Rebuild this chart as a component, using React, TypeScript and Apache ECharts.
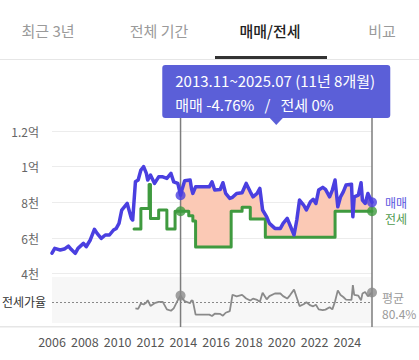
import React, { useEffect, useRef } from "react";
import * as echarts from "echarts";

const FONT = "'Noto Sans CJK KR', 'Noto Sans', sans-serif";

const tabLabels = ["최근 3년", "전체 기간", "매매/전세", "비교"];
const activeTabIndex = 2;
const seriesNames = ["매매", "전세"];
const ratioName = "전세가율";
const averageRatio = 80.4;
const rangeStart = "2013.11";
const rangeEnd = "2025.07";

// 매매 (sale) price, 만원
const saleDates = [
  "2006.01", "2006.03", "2006.07", "2006.10", "2007.01", "2007.03", "2007.06", "2007.08", "2007.12",
  "2008.02", "2008.05", "2008.08", "2008.10", "2009.01", "2009.04", "2009.07", "2009.10", "2009.12",
  "2010.02", "2010.04", "2010.08", "2010.09", "2010.11", "2010.12",
  "2011.02", "2011.04", "2011.06", "2011.07", "2011.08", "2011.10", "2011.11",
  "2012.01", "2012.04", "2012.07", "2012.10", "2013.01", "2013.04", "2013.06", "2013.09", "2013.11", "2013.12",
  "2014.02", "2014.06", "2014.07", "2014.08", "2014.10", "2015.01", "2015.08", "2015.10", "2015.12",
  "2016.04", "2016.06", "2016.08", "2016.11", "2017.01", "2017.04", "2017.08", "2017.11",
  "2018.02", "2018.04", "2018.07", "2018.09", "2018.11", "2019.02", "2019.04", "2019.08", "2019.12",
  "2020.02", "2020.05", "2020.07", "2020.10", "2020.12", "2021.02", "2021.05", "2021.07", "2021.10", "2021.12",
  "2022.02", "2022.04", "2022.07", "2022.09", "2022.12", "2023.02", "2023.04", "2023.06", "2023.08", "2023.10", "2023.12",
  "2024.04", "2024.05", "2024.06", "2024.09", "2024.11", "2024.12", "2025.02", "2025.04", "2025.07",
];
const saleValues = [
  5150, 5420, 5330, 5380, 5550, 5370, 5140, 5420, 5700,
  5510, 5890, 6490, 6260, 5980, 6170, 6170, 6450, 6540,
  6820, 7570, 7940, 7660, 7100, 7010,
  9150, 9250, 9810, 9900, 10000, 9620, 9250,
  9530, 9060, 9430, 9430, 9340, 9620, 9150, 9060, 8400, 8690,
  9210, 9250, 8780, 8500, 8870, 8870, 8870, 9150, 8690,
  8720, 9100, 8500, 8220, 8280, 8500, 8540, 9060,
  8590, 8310, 8500, 8780, 7570, 7190, 6820, 6540, 6540,
  6820, 7100, 6730, 6170, 7010, 8130, 7850, 7570, 8030, 8170,
  7940, 8690, 8840, 8730, 8310, 8690, 9250, 7750, 8310, 8590, 8970,
  9020, 7190, 8310, 8410, 9100, 8130, 7940, 8500, 8000,
];

// 전세 (jeonse) price, 만원 — value holds from its date until the next date
const jeonseDates = [
  "2011.01", "2011.06", "2011.12", "2012.01", "2012.07", "2013.01", "2013.07",
  "2014.05", "2014.08", "2014.10", "2016.12", "2017.08", "2018.02", "2019.01", "2023.04", "2025.07",
];
const jeonseValues = [
  6500, 7650, 9000, 7100, 7570, 6500, 7500,
  7250, 6950, 5500, 7500, 7720, 7060, 6040, 7500, 7500,
];

const xMin = 2006;
const xMax = 2025.5;

const toX = (s: string) => {
  const [y, m] = s.split(".").map(Number);
  return y + (m - 1) / 12;
};

export default function App() {
  const ref = useRef<HTMLDivElement>(null);

  useEffect(() => {
    if (!ref.current) return;
    const chart = echarts.init(ref.current, undefined, { renderer: "svg" });

    const salePts = saleDates.map((d, i) => [toX(d), saleValues[i]]);
    const jeonsePts = jeonseDates.map((d, i) => [toX(d), jeonseValues[i]]);
    const eps = 1e-6;
    const jeonseAt = (x: number) => {
      let v: number | null = null;
      for (const p of jeonsePts) if (p[0] <= x + eps) v = p[1];
      return v;
    };
    const saleAt = (x: number) => {
      const p = salePts.find((q) => Math.abs(q[0] - x) < eps);
      return p ? p[1] : null;
    };
    const ratioPts = salePts
      .filter((p) => p[0] >= jeonsePts[0][0] - eps)
      .map((p) => [p[0], ((jeonseAt(p[0]) as number) / p[1]) * 100]);

    const s = toX(rangeStart);
    const e = toX(rangeEnd);
    const upper = salePts.filter((p) => p[0] >= s - eps && p[0] <= e + eps);
    const lower: number[][] = [];
    let cur = jeonseAt(s) as number;
    lower.push([s, cur]);
    jeonsePts.forEach(([x, v]) => {
      if (x > s + eps && x <= e + eps) {
        lower.push([x, cur]);
        lower.push([x, v]);
        cur = v;
      }
    });
    lower.push([e, cur]);
    const poly = upper.concat(lower.slice().reverse());

    const s0 = saleAt(s) as number, s1 = saleAt(e) as number;
    const j0 = jeonseAt(s) as number, j1 = jeonseAt(e) as number;
    const fmtPct = (a: number, b: number) => `${parseFloat((((b / a) - 1) * 100).toFixed(2))}%`;
    const [sy, sm] = rangeStart.split(".").map(Number);
    const [ey, em] = rangeEnd.split(".").map(Number);
    const months = (ey - sy) * 12 + (em - sm);
    const line1 = `${rangeStart}~${rangeEnd} (${Math.floor(months / 12)}년 ${months % 12}개월)`;
    const line2 = `${seriesNames[0]} ${fmtPct(s0, s1)}   /   ${seriesNames[1]} ${fmtPct(j0, j1)}`;

    const BLUE = "#4a3fe0";
    const GREEN = "#3f9a3f";
    const GREY = "#8a8a8a";
    const TIP = "#5b5fd8";

    const tabCenters = [48, 159, 270, 382];

    chart.setOption({
      animation: false,
      textStyle: { fontFamily: FONT },
      grid: [
        { left: 52, right: 47, top: 131, height: 142.7 },
        { left: 52, right: 47, top: 277, height: 46, show: true, backgroundColor: "#f7f7f7", borderWidth: 0 },
      ],
      xAxis: [
        { type: "value", gridIndex: 0, min: xMin, max: xMax, show: false },
        {
          type: "value", gridIndex: 1, min: xMin, max: xMax, interval: 2,
          axisLine: { show: false }, axisTick: { show: false }, splitLine: { show: false },
          axisLabel: { margin: 12, fontSize: 12.5, color: "#555", fontFamily: FONT, showMaxLabel: false, formatter: (v: number) => String(v) },
        },
      ],
      yAxis: [
        {
          type: "value", gridIndex: 0, min: 4000, max: 12000, interval: 2000,
          axisLine: { show: false }, axisTick: { show: false },
          splitLine: { lineStyle: { color: "#ececec", width: 1 } },
          axisLabel: {
            margin: 13, fontSize: 12, color: "#666", fontFamily: FONT,
            formatter: (v: number) => (v >= 10000 ? `${v / 10000}억` : `${v / 1000}천`),
          },
        },
        { type: "value", gridIndex: 1, min: 50, max: 116, show: false },
      ],
      graphic: [
        ...tabLabels.map((t, i) => ({
          type: "text",
          x: tabCenters[i],
          y: 30,
          style: {
            text: t, fill: i === activeTabIndex ? "#222" : "#9a9a9a",
            fontSize: 15, fontFamily: FONT, fontWeight: i === activeTabIndex ? 500 : "normal",
            align: "center", verticalAlign: "middle",
          },
        })),
        { type: "rect", shape: { x: 0, y: 59, width: 419, height: 1 }, style: { fill: "#e6e6e6" } },
        { type: "rect", shape: { x: 215, y: 56, width: 112, height: 3 }, style: { fill: "#333" } },
        { type: "rect", shape: { x: 0, y: 326, width: 419, height: 1.5 }, style: { fill: "#e6e6e6" } },
        {
          type: "text", x: 2, y: 301,
          style: { text: ratioName, fill: "#333", fontSize: 12, fontFamily: FONT, verticalAlign: "middle" },
        },
      ],
      series: [
        {
          type: "custom", xAxisIndex: 0, yAxisIndex: 0, z: 1, silent: true,
          data: [[s, e]], encode: { x: [0, 1] },
          renderItem: (_p: any, api: any) => ({
            type: "polygon",
            shape: { points: poly.map((p) => api.coord(p)) },
            style: { fill: "#fbc9b5", stroke: "rgba(240,150,120,0.6)", lineWidth: 1 },
          }),
        },
        {
          type: "custom", xAxisIndex: 0, yAxisIndex: 0, z: 2, silent: true,
          data: [[s, e]], encode: { x: [0, 1] },
          renderItem: (_p: any, api: any) => {
            const x1 = api.coord([api.value(0), 12000])[0];
            const x2 = api.coord([api.value(1), 12000])[0];
            const cx = (x1 + x2) / 2;
            const w = 228, top = 65, h = 53;
            return {
              type: "group",
              children: [
                { type: "line", shape: { x1, y1: top + h, x2: x1, y2: 327 }, style: { stroke: "#7d7d7d", lineWidth: 1.5 } },
                { type: "line", shape: { x1: x2, y1: top + h, x2, y2: 327 }, style: { stroke: "#7d7d7d", lineWidth: 1.5 } },
                { type: "rect", shape: { x: cx - w / 2, y: top, width: w, height: h, r: 3 }, style: { fill: TIP } },
                { type: "polygon", shape: { points: [[cx - 7, top + h - 0.5], [cx + 7, top + h - 0.5], [cx, top + h + 7]] }, style: { fill: TIP } },
                { type: "text", style: { x: cx - w / 2 + 13, y: top + 15, text: line1, fill: "#fff", fontSize: 15, fontFamily: FONT, verticalAlign: "middle" } },
                { type: "text", style: { x: cx - w / 2 + 13, y: top + 39, text: line2, fill: "#fff", fontSize: 15, fontFamily: FONT, verticalAlign: "middle" } },
              ],
            };
          },
        },
        {
          name: seriesNames[1], type: "line", xAxisIndex: 0, yAxisIndex: 0, z: 3,
          data: jeonsePts, step: "end", showSymbol: false, silent: true,
          lineStyle: { color: GREEN, width: 3, join: "round", cap: "round" },
          itemStyle: { color: GREEN },
          endLabel: { show: true, formatter: "{a}", color: "#4f9a4f", fontSize: 12, fontFamily: FONT, distance: 13, offset: [0, 7] },
        },
        {
          name: seriesNames[0], type: "line", xAxisIndex: 0, yAxisIndex: 0, z: 4,
          data: salePts, showSymbol: false, silent: true,
          lineStyle: { color: BLUE, width: 3.5, join: "round", cap: "round" },
          itemStyle: { color: BLUE },
          endLabel: { show: true, formatter: "{a}", color: "#5a55e0", fontSize: 12, fontFamily: FONT, distance: 13 },
        },
        {
          type: "scatter", xAxisIndex: 0, yAxisIndex: 0, z: 5, silent: true,
          data: [[s, j0], [e, j1]], symbolSize: 10, itemStyle: { color: GREEN },
        },
        {
          type: "scatter", xAxisIndex: 0, yAxisIndex: 0, z: 6, silent: true,
          data: [[s, s0], [e, s1]], symbolSize: 10, itemStyle: { color: BLUE },
        },
        {
          type: "line", xAxisIndex: 1, yAxisIndex: 1, z: 3, silent: true,
          data: ratioPts, showSymbol: false,
          lineStyle: { color: GREY, width: 1.8 },
          markLine: {
            silent: true, symbol: "none",
            lineStyle: { color: "#888", type: [2, 2], width: 1.2 },
            label: {
              show: true, position: "end", formatter: `평균\n${averageRatio}%`,
              color: "#9a9a9a", fontSize: 12, lineHeight: 16, fontFamily: FONT, distance: 10, offset: [0, 4],
            },
            data: [{ yAxis: averageRatio }],
          },
        },
        {
          type: "scatter", xAxisIndex: 1, yAxisIndex: 1, z: 5, silent: true,
          data: [[s, (j0 / s0) * 100], [e, (j1 / s1) * 100]], symbolSize: 10, itemStyle: { color: GREY },
        },
      ],
    });

    return () => chart.dispose();
  }, []);

  return <div ref={ref} style={{ position: "absolute", left: 0, top: 0, width: 419, height: 360, background: "#fff" }} />;
}
